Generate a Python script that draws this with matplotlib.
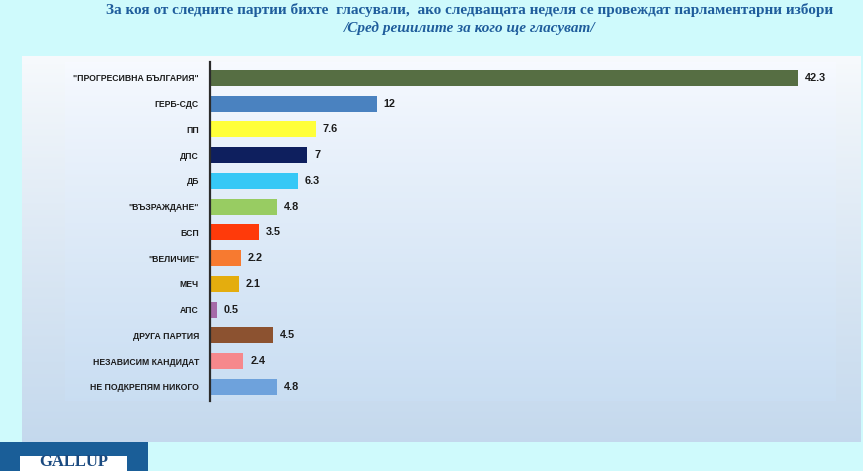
import matplotlib
matplotlib.use('Agg')
import matplotlib.pyplot as plt
import numpy as np
from matplotlib.patches import Rectangle

# данни от графиката
parties = ['"ПРОГРЕСИВНА БЪЛГАРИЯ"', 'ГЕРБ-СДС', 'ПП', 'ДПС', 'ДБ', '"ВЪЗРАЖДАНЕ"', 'БСП',
           '"ВЕЛИЧИЕ"', 'МЕЧ', 'АПС', 'ДРУГА ПАРТИЯ', 'НЕЗАВИСИМ КАНДИДАТ', 'НЕ ПОДКРЕПЯМ НИКОГО']
values = [42.3, 12, 7.6, 7, 6.3, 4.8, 3.5, 2.2, 2.1, 0.5, 4.5, 2.4, 4.8]
value_labels = ['42.3', '12', '7.6', '7', '6.3', '4.8', '3.5', '2.2', '2.1', '0.5', '4.5', '2.4', '4.8']
colors = ['#566e43', '#4a82c0', '#ffff3a', '#0e1f5e', '#36c8f6', '#98cc62', '#ff3a0a',
          '#f77a30', '#e4ad0e', '#a56aa8', '#8c5230', '#f6888c', '#6ea2dc']

title1 = 'За коя от следните партии бихте  гласували,  ако следващата неделя се провеждат парламентарни избори'
title2 = '/Сред решилите за кого ще гласуват/'

W, H = 863, 471
fig = plt.figure(figsize=(W / 100, H / 100), dpi=100)
fig.patch.set_facecolor('#cffafc')

def px(x0, y0, x1, y1):
    # пиксели -> координати на фигурата
    return [x0 / W, 1 - y1 / H, (x1 - x0) / W, (y1 - y0) / H]

# фон на диаграмата с градиент
bg = fig.add_axes(px(22, 56, 860, 442))
grad = np.linspace(0, 1, 256).reshape(-1, 1)
c_top = np.array([0.97, 0.98, 0.99])
c_bot = np.array([0.77, 0.85, 0.93])
img = c_top + (c_bot - c_top) * grad[:, :, None] ** 0.9
bg.imshow(img, aspect='auto', extent=[0, 1, 0, 1], origin='upper')
bg.set_axis_off()

inner = fig.add_axes(px(65, 62, 835, 401))
c_top2 = np.array([0.97, 0.98, 1.0])
c_bot2 = np.array([0.79, 0.87, 0.95])
img2 = c_top2 + (c_bot2 - c_top2) * grad[:, :, None] ** 0.85
inner.imshow(img2, aspect='auto', extent=[0, 1, 0, 1], origin='upper')
inner.set_axis_off()

ax = fig.add_axes(px(210, 62, 835, 401))
ax.patch.set_alpha(0)
y = np.arange(len(parties))
bars = ax.barh(y, values, height=0.62, color=colors)
ax.set_xlim(0, 45)
ax.set_ylim(12.55, -0.62)
ax.set_yticks(y)
ax.set_yticklabels(parties, fontsize=6.2, fontweight='bold', color='#1c1c1c',
                   family=['Liberation Sans', 'DejaVu Sans'])
ax.tick_params(axis='y', length=0, pad=8)
ax.set_xticks([])
for s in ['top', 'right', 'bottom']:
    ax.spines[s].set_visible(False)
ax.spines['left'].set_color('#2b2b2b')
ax.spines['left'].set_linewidth(1.6)

for b, lab in zip(bars, value_labels):
    ax.annotate(lab, (b.get_width(), b.get_y() + b.get_height() / 2), xytext=(5, 0),
                textcoords='offset points', va='center', ha='left', fontsize=7.8,
                fontweight='bold', color='#1c1c1c', family=['Liberation Sans', 'DejaVu Sans'])

# заглавие
t1 = fig.text(470 / W, 1 - 10 / H, title1, ha='center', va='center', fontsize=11, fontweight='bold',
              color='#1f5d9c', family=['Liberation Serif', 'DejaVu Serif'])
t2 = fig.text(470 / W, 1 - 28 / H, title2, ha='center', va='center', fontsize=11, fontweight='bold',
              style='italic', color='#1f5d9c', family=['Liberation Serif', 'DejaVu Serif'])
# свиваме заглавието да се събере в ширината
r = fig.canvas.get_renderer()
w1 = t1.get_window_extent(r).width
if w1 > 785:
    k = 785 / w1
    t1.set_fontsize(11 * k)
    t2.set_fontsize(11 * k * 1.05)

# лого
fig.patches.append(Rectangle((0, 0), 148 / W, 29 / H, transform=fig.transFigure,
                             facecolor='#1a5e98', edgecolor='none'))
fig.patches.append(Rectangle((20 / W, 0), 107 / W, 15 / H, transform=fig.transFigure,
                             facecolor='white', edgecolor='none'))
fig.text(74 / W, 1 / H, 'GALLUP', ha='center', va='bottom', fontsize=12, fontweight='bold',
         color='#1a4a80', family=['Liberation Serif', 'DejaVu Serif'])

fig.savefig('out.png', dpi=100, facecolor=fig.get_facecolor())
